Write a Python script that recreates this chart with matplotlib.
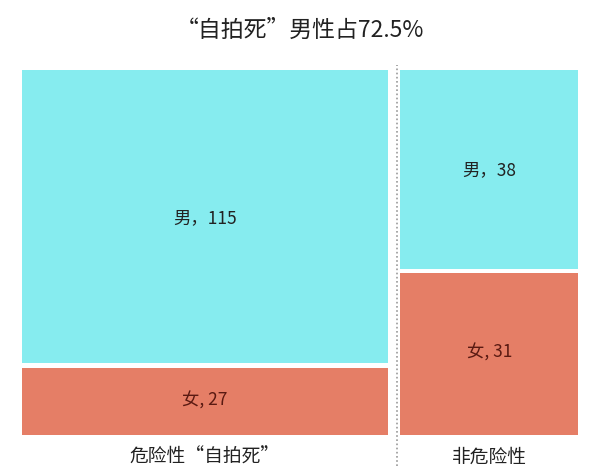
import matplotlib
matplotlib.use("Agg")
from matplotlib import pyplot
from matplotlib.patches import Rectangle

pyplot.rcParams['font.family'] = ['Noto Sans CJK SC', 'DejaVu Sans']

groups = ['危险性“自拍死”', '非危险性']
male = [115, 38]
female = [27, 31]
male_labels = ['男，115', '男，38']
female_labels = ['女, 27', '女, 31']
title = '“自拍死”男性占72.5%'

cyan = '#86ECEF'
coral = '#E57E66'
gap_x = 5.0     # data units between columns
gap_y = 0.012   # fraction between stacked boxes

fig = pyplot.figure(figsize=(6, 4.75), dpi=100)
ax = fig.add_axes([22 / 600, 1 - 435 / 475, 556 / 600, 365 / 475])
ax.set_axis_off()

totals = [m + f for m, f in zip(male, female)]
x0 = 0.0
for i in range(len(groups)):
    w = totals[i]
    f_frac = female[i] / totals[i]
    # female on the bottom, male above
    ax.add_patch(Rectangle((x0, 0), w, f_frac - gap_y / 2, color=coral, lw=0))
    ax.add_patch(Rectangle((x0, f_frac + gap_y / 2), w, 1 - f_frac - gap_y / 2,
                           color=cyan, lw=0))
    ax.text(x0 + w / 2, (f_frac + 1) / 2, male_labels[i], ha='center', va='center',
            fontsize=12.5, color='#222222')
    ax.text(x0 + w / 2, f_frac / 2, female_labels[i], ha='center', va='center',
            fontsize=12.5, color='#5a1a12', fontweight='medium')
    ax.text(x0 + w / 2, -0.062, groups[i], ha='center', va='center',
            fontsize=13.5, color='#222222')
    if i < len(groups) - 1:
        xl = x0 + w + gap_x * 0.7
        ax.plot([xl, xl], [-0.085, 1.015], color='#999999', lw=1.2,
                ls=(0, (1, 1.5)), clip_on=False)
    x0 += w + gap_x

ax.set_xlim(0, sum(totals) + gap_x * (len(groups) - 1))
ax.set_ylim(0, 1)

fig.text(0.5, 1 - 30 / 475, title, ha='center', va='center', fontsize=16.5,
         color='#222222')

pyplot.savefig("out.png")
